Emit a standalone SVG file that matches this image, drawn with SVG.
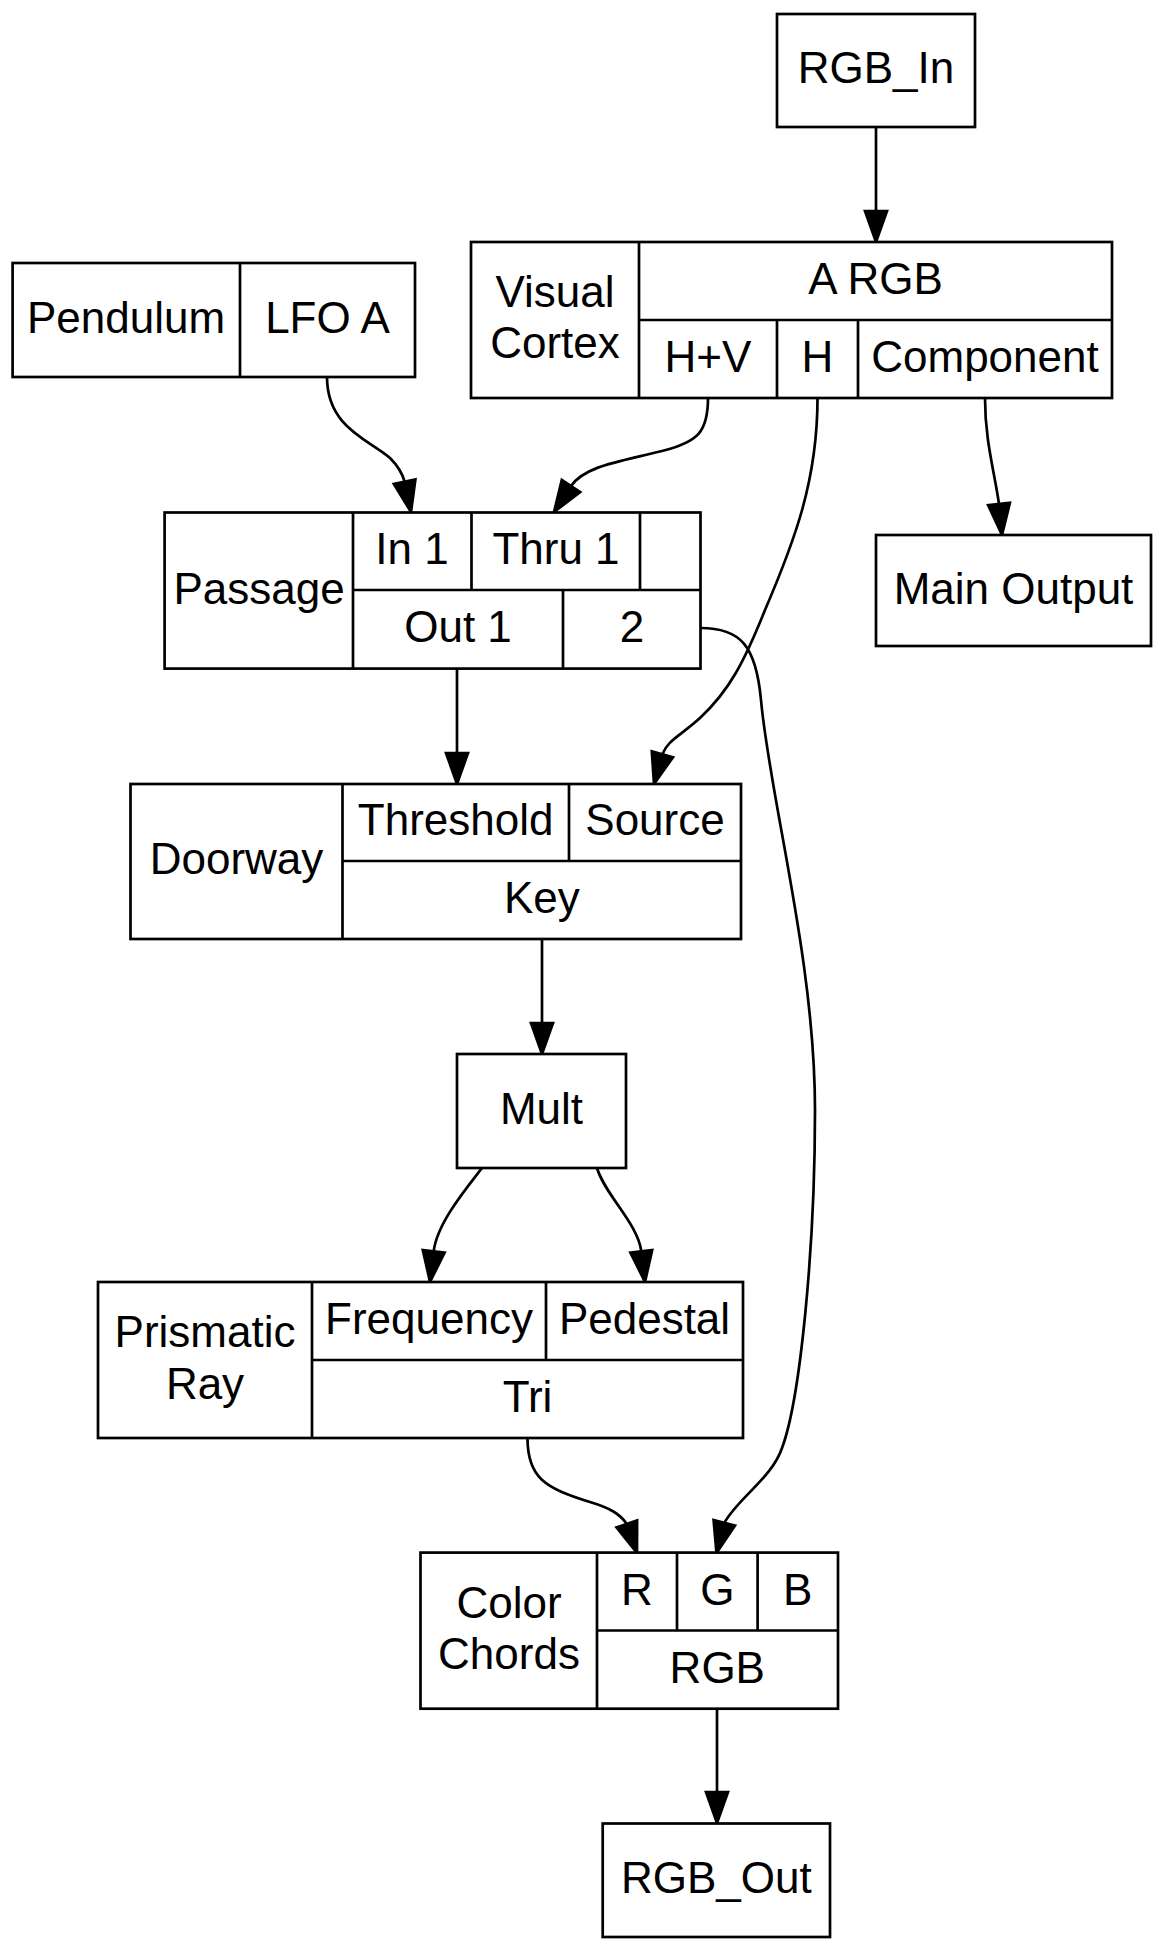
<svg xmlns="http://www.w3.org/2000/svg" width="1162" height="1950" viewBox="0 0 1162 1950">
<style>
.box{fill:#fff;stroke:#000;stroke-width:2.7}
.div{fill:none;stroke:#000;stroke-width:2.7}
.edge{fill:none;stroke:#000;stroke-width:2.7}
.head{fill:#000;stroke:#000;stroke-width:2.7}
text{font-family:"Liberation Sans",Arial,Helvetica,sans-serif;font-size:44px;text-anchor:middle;fill:#000}
</style>
<rect x="0" y="0" width="1162" height="1950" fill="#fff"/>
<g id="edges">
<path class="edge" d="M876,127 L876,211"/>
<polygon class="head" points="876,242 865,211 887,211"/>
<path class="edge" d="M327,377 C327,428 370,440 390,458 C398,466 402,472 404.6,481.7"/>
<polygon class="head" points="411,512 415.4,479.4 393.8,484"/>
<path class="edge" d="M708,398 C708,432 698,442 662,451 C618,462 585,466 571,486"/>
<polygon class="head" points="554,512 580.2,492 561.8,480"/>
<path class="edge" d="M817.5,398 C817.5,480 795,540 765,610 C745,660 730,690 700,718 C680,736 668,740 662.4,754.2"/>
<polygon class="head" points="654,784 673,757.2 651.8,751.2"/>
<path class="edge" d="M985,398 C985,440 994,470 999,504"/>
<polygon class="head" points="1002,535 1009.9,502.9 988.1,505.1"/>
<path class="edge" d="M457,668.6 L457,753"/>
<polygon class="head" points="457,784 446,753 468,753"/>
<path class="edge" d="M700.5,628 C740,628 756,645 761,700 C770,800 815,960 815,1110 C815,1250 800,1400 782,1448 C772,1478 738,1498 724.3,1522.9"/>
<polygon class="head" points="716.5,1553 735,1525.6 713.6,1520.1"/>
<path class="edge" d="M542,939 L542,1023"/>
<polygon class="head" points="542,1054 531,1023 553,1023"/>
<path class="edge" d="M482,1168 C465,1190 437,1223.6 433.7,1251.3"/>
<polygon class="head" points="430,1282 444.6,1252.6 422.8,1250"/>
<path class="edge" d="M597,1168 C605,1195 637.9,1223.6 641.3,1251.3"/>
<polygon class="head" points="645,1282 652.2,1250 630.4,1252.6"/>
<path class="edge" d="M527.5,1438 C527.5,1478 545,1488 590,1502 C610,1508 620,1514 626.8,1523.9"/>
<polygon class="head" points="637,1553 637.1,1520.3 616.5,1527.5"/>
<path class="edge" d="M717,1709 L717,1792"/>
<polygon class="head" points="717,1823 706,1792 728,1792"/>
</g>
<g id="rgb_in">
<rect class="box" x="777" y="14" width="198" height="113"/>
<text x="876" y="83">RGB_In</text>
</g>
<g id="pendulum">
<rect class="box" x="12.6" y="263" width="402.4" height="114"/>
<path class="div" d="M240,263 L240,377"/>
<text x="126" y="333">Pendulum</text>
<text x="327.5" y="333">LFO A</text>
</g>
<g id="visual_cortex">
<rect class="box" x="471" y="242" width="641" height="156"/>
<path class="div" d="M639,242 L639,398 M639,320 L1112,320 M777,320 L777,398 M858,320 L858,398"/>
<text x="555" y="307">Visual</text>
<text x="555" y="358">Cortex</text>
<text x="875.5" y="294">A RGB</text>
<text x="708" y="372">H+V</text>
<text x="817.5" y="372">H</text>
<text x="985" y="372">Component</text>
</g>
<g id="passage">
<rect class="box" x="164.6" y="512.5" width="535.9" height="156.1"/>
<path class="div" d="M353,512.5 L353,668.6 M353,590 L700.5,590 M471.5,512.5 L471.5,590 M640,512.5 L640,590 M563,590 L563,668.6"/>
<text x="259" y="603.5">Passage</text>
<text x="412" y="564">In 1</text>
<text x="556" y="564">Thru 1</text>
<text x="458" y="642">Out 1</text>
<text x="632" y="642">2</text>
</g>
<g id="main_output">
<rect class="box" x="876" y="535" width="275" height="111"/>
<text x="1013.5" y="603.5">Main Output</text>
</g>
<g id="doorway">
<rect class="box" x="130.5" y="784" width="610.5" height="155"/>
<path class="div" d="M342.5,784 L342.5,939 M342.5,861 L741,861 M569,784 L569,861"/>
<text x="236.5" y="874">Doorway</text>
<text x="455.7" y="835">Threshold</text>
<text x="655" y="835">Source</text>
<text x="541.8" y="913">Key</text>
</g>
<g id="mult">
<rect class="box" x="457" y="1054" width="169" height="114"/>
<text x="541.5" y="1124">Mult</text>
</g>
<g id="prismatic_ray">
<rect class="box" x="98" y="1282" width="645" height="156"/>
<path class="div" d="M312,1282 L312,1438 M312,1360 L743,1360 M546,1282 L546,1360"/>
<text x="205" y="1347">Prismatic</text>
<text x="205" y="1398.6">Ray</text>
<text x="429" y="1334">Frequency</text>
<text x="644.5" y="1334">Pedestal</text>
<text x="527.5" y="1412">Tri</text>
</g>
<g id="color_chords">
<rect class="box" x="420.5" y="1552.6" width="417.5" height="156.1"/>
<path class="div" d="M597,1552.6 L597,1708.7 M597,1630.5 L838,1630.5 M677,1552.6 L677,1630.5 M757.6,1552.6 L757.6,1630.5"/>
<text x="509" y="1617.7">Color</text>
<text x="509" y="1669.3">Chords</text>
<text x="637" y="1604.5">R</text>
<text x="717.3" y="1604.5">G</text>
<text x="797.8" y="1604.5">B</text>
<text x="717.3" y="1682.5">RGB</text>
</g>
<g id="rgb_out">
<rect class="box" x="602.7" y="1823.5" width="227.3" height="113.5"/>
<text x="716.4" y="1893">RGB_Out</text>
</g>
</svg>
